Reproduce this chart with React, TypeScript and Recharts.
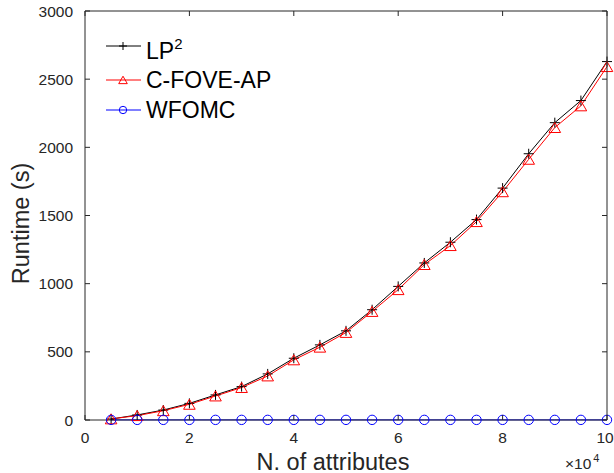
import React from 'react';
import { LineChart, Line, XAxis, YAxis, Legend } from 'recharts';

// N. of attributes (x 10^4)
const attributes = [0.5, 1, 1.5, 2, 2.5, 3, 3.5, 4, 4.5, 5, 5.5, 6, 6.5, 7, 7.5, 8, 8.5, 9, 9.5, 10];
// runtime in seconds
const lp2Runtime = [7, 37, 73, 122, 184, 245, 338, 453, 551, 654, 809, 980, 1152, 1304, 1470, 1701, 1953, 2181, 2343, 2629];
const cfoveRuntime = [8, 32, 68, 115, 176, 238, 323, 441, 534, 642, 796, 956, 1140, 1279, 1455, 1674, 1912, 2145, 2304, 2592];
const wfomcRuntime = [1, 1, 1, 1, 1, 1, 1, 1, 1, 1, 1, 1, 1, 1, 1, 1, 1, 1, 1, 1];

const xTicks = [0, 2, 4, 6, 8, 10];
const yTicks = [0, 500, 1000, 1500, 2000, 2500, 3000];

const rows = attributes.map((n, i) => ({
  n,
  lp2: lp2Runtime[i],
  cfove: cfoveRuntime[i],
  wfomc: wfomcRuntime[i],
}));

const CHART_W = 614;
const CHART_H = 473;
const MARGIN = { top: 11, right: 7, bottom: 0, left: 0 };
const Y_AXIS_W = 85;
const X_AXIS_H = 53;
const PLOT_TOP = MARGIN.top;
const PLOT_RIGHT = CHART_W - MARGIN.right;
const PLOT_LEFT = MARGIN.left + Y_AXIS_W;
const PLOT_BOTTOM = CHART_H - MARGIN.bottom - X_AXIS_H;

const AXIS = '#262626';
const FONT = '"Liberation Sans", Arial, Helvetica, sans-serif';

const PlusDot = ({ cx, cy, s = 5 }: any) => (
  <path d={`M${cx - s},${cy}H${cx + s}M${cx},${cy - s}V${cy + s}`} stroke="#000" strokeWidth={1} fill="none" />
);
const TriangleDot = ({ cx, cy, s = 5.8 }: any) => (
  <path
    d={`M${cx},${cy - s * 0.88}L${cx + s},${cy + s * 0.85}L${cx - s},${cy + s * 0.85}Z`}
    stroke="#ff0000"
    strokeWidth={1}
    fill="none"
  />
);
const CircleDot = ({ cx, cy, r = 4.7 }: any) => (
  <circle cx={cx} cy={cy} r={r} stroke="#0000ff" strokeWidth={1} fill="none" />
);

// bottom ticks also draw the mirrored tick on the top edge
const BottomTick = ({ x, y, payload }: any) => (
  <g>
    <line x1={x} y1={y} x2={x} y2={y - 5} stroke={AXIS} />
    <line x1={x} y1={PLOT_TOP} x2={x} y2={PLOT_TOP + 5} stroke={AXIS} />
    <text
      x={payload.value === 10 ? x - 2 : x}
      y={y + 23}
      textAnchor="middle"
      fontSize={15.5}
      fill={AXIS}
      fontFamily={FONT}
    >
      {payload.value}
    </text>
    {payload.value === 10 && (
      <text x={x - 42} y={y + 49} fontSize={15.5} fill={AXIS} fontFamily={FONT}>
        ×10
        <tspan dx={2} dy={-7} fontSize={11}>
          4
        </tspan>
      </text>
    )}
  </g>
);
// left ticks also draw the mirrored tick on the right edge
const LeftTick = ({ x, y, payload }: any) => (
  <g>
    <line x1={x} y1={y} x2={x + 5} y2={y} stroke={AXIS} />
    <line x1={PLOT_RIGHT} y1={y} x2={PLOT_RIGHT - 5} y2={y} stroke={AXIS} />
    <text x={x - 12} y={y + 5.5} textAnchor="end" fontSize={15.5} fill={AXIS} fontFamily={FONT}>
      {payload.value}
    </text>
  </g>
);

const XLabel = ({ viewBox }: any) => (
  <text
    x={viewBox.x + viewBox.width / 2 - 13}
    y={viewBox.y + 50}
    textAnchor="middle"
    fontSize={23.5}
    fill={AXIS}
    fontFamily={FONT}
  >
    N. of attributes
  </text>
);
const YLabel = ({ viewBox }: any) => {
  const cx = viewBox.x + 29;
  const cy = viewBox.y + viewBox.height / 2 + 8;
  return (
    <text
      x={cx}
      y={cy}
      transform={`rotate(-90, ${cx}, ${cy})`}
      textAnchor="middle"
      fontSize={23.5}
      fill={AXIS}
      fontFamily={FONT}
    >
      Runtime (s)
    </text>
  );
};

// legend overlay, which also closes the axes box on the top and right
const LegendBox = () => (
  <svg width={CHART_W} height={CHART_H} style={{ display: 'block', pointerEvents: 'none' }}>
    <path
      d={`M${PLOT_LEFT},${PLOT_TOP}H${PLOT_RIGHT}V${PLOT_BOTTOM}`}
      stroke={AXIS}
      strokeWidth={1}
      fill="none"
    />
    <line x1={106} y1={46} x2={141} y2={46} stroke="#000" />
    <PlusDot cx={123} cy={46} s={4} />
    <text x={146} y={59} fontSize={23} fontFamily={FONT} fill="#000">
      LP
      <tspan dy={-10} fontSize={15}>
        2
      </tspan>
    </text>
    <line x1={106} y1={80} x2={141} y2={80} stroke="#ff0000" />
    <TriangleDot cx={123} cy={80} s={4.3} />
    <text x={146} y={88} fontSize={23} fontFamily={FONT} fill="#000">
      C-FOVE-AP
    </text>
    <line x1={106} y1={110} x2={141} y2={110} stroke="#0000ff" />
    <CircleDot cx={123} cy={110} r={3.7} />
    <text x={146} y={118} fontSize={23} fontFamily={FONT} fill="#000">
      WFOMC
    </text>
  </svg>
);

export default function App() {
  return (
    <div style={{ position: 'absolute', left: 0, top: 0, background: '#fff' }}>
      <LineChart width={CHART_W} height={CHART_H} data={rows} margin={MARGIN}>
        <XAxis
          dataKey="n"
          type="number"
          domain={[0, 10]}
          ticks={xTicks}
          interval={0}
          height={X_AXIS_H}
          stroke={AXIS}
          tickSize={0}
          tickMargin={0}
          tickLine={false}
          tick={<BottomTick />}
          label={(p: any) => <XLabel {...p} />}
        />
        <YAxis
          type="number"
          domain={[0, 3000]}
          ticks={yTicks}
          interval={0}
          width={Y_AXIS_W}
          stroke={AXIS}
          tickSize={0}
          tickMargin={0}
          tickLine={false}
          tick={<LeftTick />}
          label={(p: any) => <YLabel {...p} />}
        />
        <Legend
          layout="horizontal"
          verticalAlign="middle"
          align="center"
          wrapperStyle={{ left: 0, top: 0, width: CHART_W, height: CHART_H, pointerEvents: 'none' }}
          content={() => <LegendBox />}
        />
        <Line
          dataKey="lp2"
          name="LP2"
          stroke="#000"
          strokeWidth={1}
          isAnimationActive={false}
          dot={(p: any) => <PlusDot key={`lp-${p.index}`} cx={p.cx} cy={p.cy} />}
          activeDot={false}
        />
        <Line
          dataKey="cfove"
          name="C-FOVE-AP"
          stroke="#ff0000"
          strokeWidth={1}
          isAnimationActive={false}
          dot={(p: any) => <TriangleDot key={`cf-${p.index}`} cx={p.cx} cy={p.cy} />}
          activeDot={false}
        />
        <Line
          dataKey="wfomc"
          name="WFOMC"
          stroke="#0000ff"
          strokeWidth={1}
          isAnimationActive={false}
          dot={(p: any) => <CircleDot key={`wf-${p.index}`} cx={p.cx} cy={p.cy} />}
          activeDot={false}
        />
      </LineChart>
    </div>
  );
}
